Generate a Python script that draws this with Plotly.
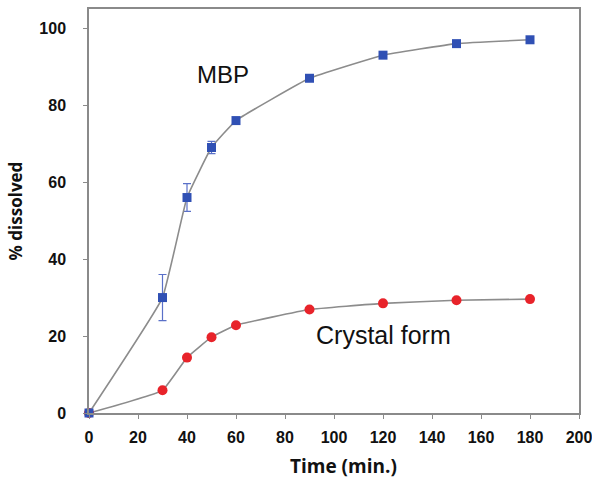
import plotly.graph_objects as go

# Dissolution profiles
time_min = [0, 30, 40, 50, 60, 90, 120, 150, 180]
mbp_pct = [0, 30, 56, 69, 76, 87, 93, 96, 97]
mbp_err = [0, 6, 3.6, 1.6, 0, 0, 0, 0, 0]
crystal_pct = [0, 5.9, 14.4, 19.7, 22.8, 26.9, 28.5, 29.3, 29.6]

x_ticks = [0, 20, 40, 60, 80, 100, 120, 140, 160, 180, 200]
y_ticks = [0, 20, 40, 60, 80, 100]

line_col = "#8c8c8c"
axis_col = "#8a8a8a"

fig = go.Figure()

fig.add_trace(go.Scatter(
    x=time_min, y=crystal_pct, mode="lines+markers",
    line=dict(color=line_col, width=1.6, shape="spline", smoothing=0.3),
    marker=dict(symbol="circle", size=10, color="#e8232a"),
    cliponaxis=False, showlegend=False,
))

fig.add_trace(go.Scatter(
    x=time_min, y=mbp_pct, mode="lines+markers",
    line=dict(color=line_col, width=1.6, shape="spline", smoothing=0.3),
    marker=dict(symbol="square", size=9, color="#3050b4"),
    error_y=dict(type="data", array=mbp_err, visible=True,
                 color="#5a70c8", thickness=1.2, width=4),
    cliponaxis=False, showlegend=False,
))

label_font = dict(family="Liberation Sans, Arial", size=24, color="#111")
fig.add_annotation(x=54.5, y=88, text="MBP", showarrow=False, font=label_font)
fig.add_annotation(x=120, y=20.2, text="Crystal form", showarrow=False,
                   font=dict(label_font, size=25))

# x-axis title placed slightly right of centre
fig.add_annotation(xref="paper", yref="paper", x=0.52, y=-0.132,
                   xanchor="center", yanchor="middle", showarrow=False,
                   text="<b>Time (min.)</b>",
                   font=dict(family="Open Sans", size=19, color="#111"))

tick_font = dict(family="Liberation Sans, Arial", size=16, color="#111", weight="bold")

fig.update_xaxes(
    range=[0, 200], tickvals=x_ticks, showgrid=False, zeroline=False,
    showline=True, linecolor=axis_col, linewidth=1.5, mirror=True,
    ticks="outside", ticklen=4, tickcolor=axis_col, tickwidth=1,
    tickfont=tick_font, ticklabelstandoff=5,
    ticklabeloverflow="allow", automargin=False,
)
fig.update_yaxes(
    range=[0, 105], tickvals=y_ticks, showgrid=False, zeroline=False,
    showline=True, linecolor=axis_col, linewidth=1.5, mirror=True,
    ticks="outside", ticklen=4, tickcolor=axis_col, tickwidth=1,
    tickfont=tick_font, ticklabelstandoff=14, automargin=False,
    title=dict(text="<b>% dissolved</b>", standoff=12,
               font=dict(family="Open Sans", size=17, color="#111")),
)

fig.update_layout(
    width=592, height=478,
    margin=dict(l=89, r=13, t=9, b=65),
    paper_bgcolor="white", plot_bgcolor="white",
    font=dict(family="Liberation Sans"),
)

fig.write_html("out.html")
